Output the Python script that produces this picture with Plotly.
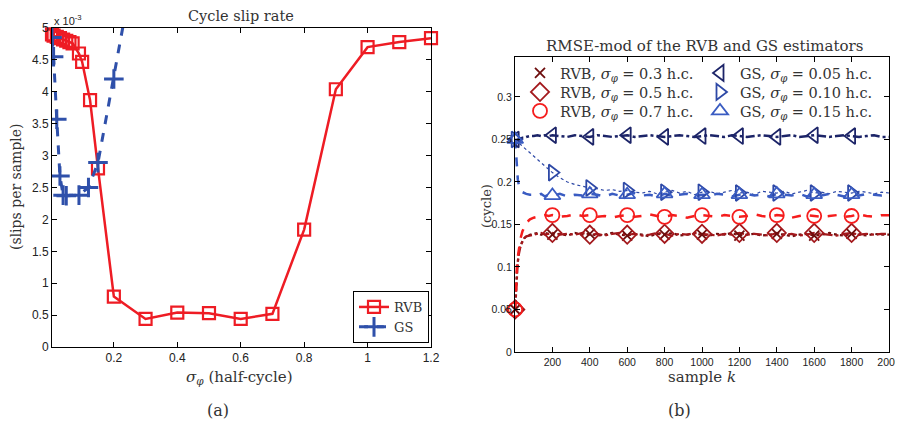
import plotly.graph_objects as go

# ---------------- Panel (a): cycle slip rate ----------------
RVB_SIGMA = [0.005, 0.01, 0.02, 0.03, 0.04, 0.05, 0.06, 0.07, 0.09, 0.1, 0.125, 0.15,
             0.2, 0.3, 0.4, 0.5, 0.6, 0.7, 0.8, 0.9, 1.0, 1.1, 1.2]
RVB_SLIPS = [4.90, 4.88, 4.86, 4.84, 4.82, 4.80, 4.78, 4.76, 4.60, 4.47, 3.87, 2.80,
             0.79, 0.44, 0.54, 0.53, 0.44, 0.52, 1.84, 4.04, 4.70, 4.78, 4.84]  # x 1e-3
GS_SIGMA = [0.005, 0.01, 0.02, 0.03, 0.04, 0.05, 0.09, 0.12, 0.15, 0.2, 0.25]
GS_SLIPS = [4.85, 4.55, 3.57, 2.68, 2.38, 2.37, 2.38, 2.50, 2.89, 4.20, 5.60]  # x 1e-3

A_XTICKS = [0.2, 0.4, 0.6, 0.8, 1.0, 1.2]
A_XTICKTEXT = ["0.2", "0.4", "0.6", "0.8", "1", "1.2"]
A_YTICKS = [0, 0.5, 1, 1.5, 2, 2.5, 3, 3.5, 4, 4.5, 5]
A_YTICKTEXT = ["0", "0.5", "1", "1.5", "2", "2.5", "3", "3.5", "4", "4.5", "5"]

# ---------------- Panel (b): RMSE-mod ----------------
K = [1, 5, 10, 15, 20, 30, 40, 50, 60, 80,
     100, 120, 140, 160, 180, 200, 240, 280, 320, 360,
     400, 440, 480, 520, 560, 600, 640, 680, 720, 760,
     800, 840, 880, 920, 960, 1000, 1040, 1080, 1120, 1160,
     1200, 1240, 1280, 1320, 1360, 1400, 1440, 1480, 1520, 1560,
     1600, 1640, 1680, 1720, 1760, 1800, 1840, 1880, 1920, 1960,
     2000]
RVB_03 = [0.050, 0.074, 0.094, 0.107, 0.116, 0.126, 0.131, 0.134, 0.136, 0.138,
          0.139, 0.140, 0.138, 0.140, 0.139, 0.138, 0.139, 0.137, 0.140, 0.138,
          0.139, 0.137, 0.138, 0.140, 0.138, 0.137, 0.139, 0.138, 0.136, 0.139,
          0.138, 0.140, 0.137, 0.138, 0.139, 0.138, 0.137, 0.139, 0.138, 0.140,
          0.137, 0.138, 0.139, 0.137, 0.138, 0.139, 0.138, 0.136, 0.138, 0.139,
          0.137, 0.138, 0.140, 0.138, 0.137, 0.139, 0.138, 0.137, 0.139, 0.138,
          0.138]
RVB_05 = [0.050, 0.071, 0.092, 0.105, 0.114, 0.125, 0.130, 0.134, 0.136, 0.137,
          0.138, 0.139, 0.140, 0.138, 0.139, 0.140, 0.138, 0.139, 0.138, 0.140,
          0.138, 0.139, 0.137, 0.139, 0.140, 0.138, 0.139, 0.137, 0.138, 0.140,
          0.139, 0.137, 0.139, 0.138, 0.140, 0.139, 0.138, 0.137, 0.139, 0.138,
          0.140, 0.138, 0.139, 0.138, 0.137, 0.140, 0.138, 0.139, 0.137, 0.138,
          0.140, 0.139, 0.138, 0.137, 0.139, 0.140, 0.138, 0.139, 0.138, 0.139,
          0.139]
RVB_07 = [0.050, 0.080, 0.100, 0.112, 0.122, 0.134, 0.142, 0.148, 0.152, 0.156,
          0.158, 0.159, 0.160, 0.161, 0.160, 0.161, 0.159, 0.160, 0.162, 0.160,
          0.161, 0.159, 0.160, 0.158, 0.160, 0.161, 0.159, 0.160, 0.162, 0.160,
          0.159, 0.161, 0.160, 0.158, 0.160, 0.161, 0.160, 0.159, 0.161, 0.160,
          0.159, 0.160, 0.162, 0.160, 0.159, 0.161, 0.160, 0.158, 0.160, 0.161,
          0.160, 0.159, 0.160, 0.161, 0.159, 0.160, 0.162, 0.160, 0.159, 0.161,
          0.161]
GS_005 = [0.250, 0.249, 0.249, 0.250, 0.250, 0.251, 0.252, 0.252, 0.253, 0.254,
          0.254, 0.255, 0.254, 0.255, 0.254, 0.255, 0.254, 0.253, 0.255, 0.254,
          0.253, 0.255, 0.254, 0.253, 0.254, 0.255, 0.253, 0.254, 0.255, 0.254,
          0.253, 0.254, 0.255, 0.254, 0.253, 0.254, 0.255, 0.254, 0.253, 0.255,
          0.254, 0.253, 0.254, 0.255, 0.254, 0.253, 0.254, 0.255, 0.253, 0.254,
          0.255, 0.254, 0.253, 0.254, 0.255, 0.254, 0.253, 0.254, 0.255, 0.253,
          0.253]
GS_010 = [0.250, 0.249, 0.248, 0.247, 0.246, 0.244, 0.242, 0.240, 0.238, 0.234,
          0.230, 0.226, 0.222, 0.218, 0.214, 0.211, 0.205, 0.200, 0.197, 0.195,
          0.193, 0.192, 0.190, 0.191, 0.189, 0.190, 0.188, 0.187, 0.189, 0.186,
          0.188, 0.190, 0.187, 0.189, 0.185, 0.188, 0.189, 0.186, 0.188, 0.190,
          0.187, 0.188, 0.185, 0.189, 0.188, 0.187, 0.189, 0.186, 0.188, 0.190,
          0.187, 0.188, 0.186, 0.189, 0.188, 0.187, 0.189, 0.188, 0.186, 0.188,
          0.187]
GS_015 = [0.250, 0.235, 0.215, 0.203, 0.197, 0.191, 0.188, 0.187, 0.186, 0.185,
          0.185, 0.184, 0.186, 0.183, 0.185, 0.184, 0.186, 0.183, 0.185, 0.184,
          0.186, 0.185, 0.183, 0.186, 0.184, 0.185, 0.187, 0.184, 0.185, 0.183,
          0.186, 0.184, 0.185, 0.186, 0.183, 0.185, 0.184, 0.186, 0.185, 0.183,
          0.185, 0.186, 0.184, 0.185, 0.183, 0.186, 0.185, 0.184, 0.186, 0.183,
          0.185, 0.184, 0.186, 0.185, 0.183, 0.185, 0.184, 0.186, 0.185, 0.184,
          0.185]
MARK_K = [1, 200, 400, 600, 800, 1000, 1200, 1400, 1600, 1800]

B_XTICKS = [0, 200, 400, 600, 800, 1000, 1200, 1400, 1600, 1800, 2000]
B_XTICKTEXT = ["", "200", "400", "600", "800", "1000", "1200", "1400", "1600", "1800", "2000"]
B_YTICKS = [0, 0.05, 0.1, 0.15, 0.2, 0.25, 0.3]
B_YTICKTEXT = ["0", "0.05", "0.1", "0.15", "0.2", "0.25", "0.3"]

for s in (RVB_03, RVB_05, RVB_07, GS_005, GS_010, GS_015):
    assert len(s) == len(K)

SERIF = "DejaVu Serif"
SANS = "Liberation Sans"
SIG = "<i>σ</i><sub><i>φ</i></sub>"

W, H = 903, 430
OFF = 8  # page body margin: screen pixel = figure pixel + OFF


def px(x):
    return (x - OFF) / W


def py(y):
    return 1 - (y - OFF) / H


fig = go.Figure()

# Panel (a)
fig.add_trace(go.Scatter(
    x=RVB_SIGMA, y=RVB_SLIPS, mode="lines+markers", name="RVB",
    line=dict(color="#ee1c24", width=2.5),
    marker=dict(symbol="square-open", size=12, color="#ee1c24", line=dict(width=2.2, color="#ee1c24")),
    cliponaxis=False, xaxis="x", yaxis="y", legend="legend"))
fig.add_trace(go.Scatter(
    x=GS_SIGMA, y=GS_SLIPS, mode="lines+markers", name="GS",
    line=dict(color="#2f50aa", width=3, dash="dash"),
    marker=dict(symbol="cross-thin", size=14, color="#2f50aa", line=dict(width=3, color="#2f50aa")),
    xaxis="x", yaxis="y", legend="legend"))

# Panel (b): (estimator, sigma, values, colour, dash, width, symbol, size, legend, legend x, legend y)
series = [
    ("RVB", "0.3", RVB_03, "#6e0e0e", "dot", 2.2, "x-thin-open", 10, "legend2", 520, 73),
    ("RVB", "0.5", RVB_05, "#a3181c", "dashdot", 2.2, "diamond-open", 14, "legend3", 520, 92),
    ("RVB", "0.7", RVB_07, "#f51d1d", "dash", 2.5, "circle-open", 14, "legend4", 520, 111),
    ("GS", "0.05", GS_005, "#1c2468", "dashdot", 2.5, "triangle-left-open", 14, "legend5", 700, 73),
    ("GS", "0.10", GS_010, "#2d48a6", "dot", 1.2, "triangle-right-open", 14, "legend6", 700, 92),
    ("GS", "0.15", GS_015, "#3a5cc2", "dash", 2.5, "triangle-up-open", 14, "legend7", 700, 111),
]
for est, sig, vals, col, dash, lw, sym, ms, leg, lx, ly in series:
    fig.add_trace(go.Scatter(
        x=K, y=vals, mode="lines", line=dict(color=col, width=lw, dash=dash),
        showlegend=False, xaxis="x2", yaxis="y2"))
legend_layouts = {}
for est, sig, vals, col, dash, lw, sym, ms, leg, lx, ly in series:
    mk = [k for k in K if k in MARK_K]
    mv = [v for k, v in zip(K, vals) if k in MARK_K]
    fig.add_trace(go.Scatter(
        x=mk, y=mv, mode="markers", name=f"{est}, {SIG} = {sig} h.c.",
        marker=dict(symbol=sym, size=ms, color=col, line=dict(width=1.8, color=col)),
        cliponaxis=False, xaxis="x2", yaxis="y2", legend=leg))
    legend_layouts[leg] = dict(x=px(lx), xanchor="left", y=py(ly), yanchor="middle",
                               bgcolor="rgba(0,0,0,0)", borderwidth=0,
                               font=dict(family=SERIF, size=14.5, color="#333"))

axis_common = dict(showline=True, linecolor="black", linewidth=1, mirror="ticks",
                   ticks="inside", ticklen=5, tickcolor="black", showgrid=False,
                   zeroline=False, tickmode="array", automargin=False)

fig.update_layout(
    width=W, height=H, margin=dict(l=0, r=0, t=0, b=0, autoexpand=False),
    paper_bgcolor="white", plot_bgcolor="white",
    xaxis=dict(domain=[px(52), px(431)], range=[0.005, 1.2], tickvals=A_XTICKS,
               ticktext=A_XTICKTEXT, anchor="y",
               tickfont=dict(family=SANS, size=12, color="#222"), **axis_common),
    yaxis=dict(domain=[py(347), py(28)], range=[0, 5], tickvals=A_YTICKS,
               ticktext=A_YTICKTEXT, anchor="x",
               tickfont=dict(family=SANS, size=12, color="#222"), **axis_common),
    xaxis2=dict(domain=[px(515), px(889)], range=[0, 2000], tickvals=B_XTICKS,
                ticktext=B_XTICKTEXT, anchor="y2",
                tickfont=dict(family=SANS, size=10.5, color="#222"), **axis_common),
    yaxis2=dict(domain=[py(352), py(57)], range=[0, 0.347], tickvals=B_YTICKS,
                ticktext=B_YTICKTEXT, anchor="x2",
                tickfont=dict(family=SANS, size=10.5, color="#222"), **axis_common),
    legend=dict(x=px(429), xanchor="right", y=py(343), yanchor="bottom",
                bgcolor="white", bordercolor="black", borderwidth=1,
                font=dict(family=SERIF, size=13, color="#333"), tracegroupgap=0,
                itemwidth=30),
    **legend_layouts,
)

ann = [
    dict(text="Cycle slip rate", x=px(241), y=py(26), size=14.5, yanchor="bottom"),
    dict(text="RMSE-mod of the RVB and GS estimators", x=px(704), y=py(46), size=15),
    dict(text=f"{SIG} (half-cycle)", x=px(240), y=py(377), size=15),
    dict(text="sample <i>k</i>", x=px(702), y=py(377), size=15),
    dict(text="(slips per sample)", x=px(16), y=py(187), size=14, angle=-90),
    dict(text="(cycle)", x=px(486), y=py(206), size=13, angle=-90),
    dict(text="(a)", x=px(218), y=py(410), size=16),
    dict(text="(b)", x=px(679), y=py(410), size=16),
]
for a in ann:
    fig.add_annotation(text=a["text"], x=a["x"], y=a["y"], xref="paper", yref="paper",
                       xanchor="center", yanchor=a.get("yanchor", "middle"), showarrow=False,
                       textangle=a.get("angle", 0),
                       font=dict(family=SERIF, size=a["size"], color="#333"))
fig.add_annotation(text="x 10<sup>-3</sup>", x=px(52), y=py(20), xref="paper", yref="paper",
                   xanchor="left", yanchor="middle", showarrow=False,
                   font=dict(family=SANS, size=11, color="#222"))

fig.write_html("out.html")
